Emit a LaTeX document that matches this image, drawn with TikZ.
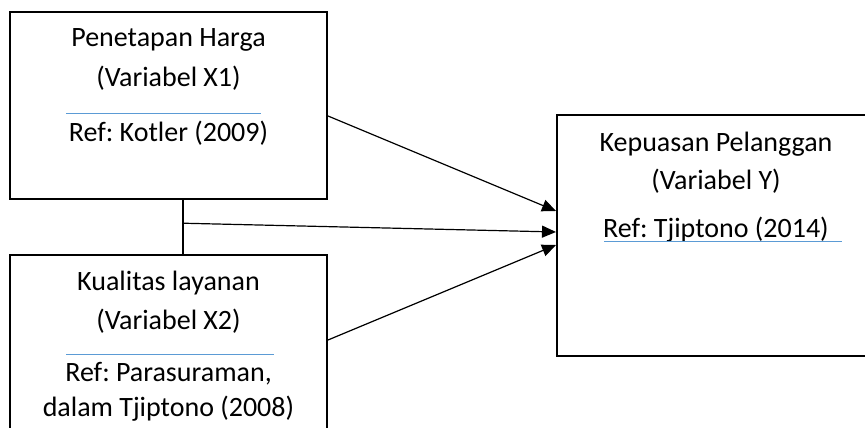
\documentclass[tikz,border=0pt]{standalone}
\usepackage{fontspec}
\setmainfont{Carlito}
\frenchspacing
\usetikzlibrary{arrows.meta}
\usetikzlibrary{calc}

\definecolor{refblue}{RGB}{91,155,213}
\tikzset{
  varbox/.style={draw, line width=2pt, minimum width=317pt, inner sep=0pt},
  vartext/.style={anchor=base, inner sep=0pt, font=\fontsize{28}{40}\selectfont},
  refline/.style={draw=refblue, line width=1pt},
  link/.style={line width=1.2pt, -{Triangle[length=14pt,width=12pt]}},
}

\begin{document}
\begin{tikzpicture}[x=1pt,y=1pt]
    \useasboundingbox (0,0) rectangle (865,428);

    % Variabel X1
    \node[varbox, minimum height=187pt] (x1) at (168.5,322.5) {};
    \node[vartext] (x1name) at ($(x1.north)+(0,-36)$) {Penetapan Harga};
    \node[vartext] (x1var) at ($(x1.north)+(0,-76)$) {(Variabel X1)};
    \draw[refline] ($(x1.north west)+(57,-103)$) -- ($(x1.north east)+(-67,-103)$);
    \node[vartext] (x1ref) at ($(x1.north)+(0,-131)$) {Ref: Kotler (2009)};

    % Variabel X2
    \node[varbox, minimum height=187pt] (x2) at (168.5,79.5) {};
    \node[vartext] (x2name) at ($(x2.north)+(0,-37)$) {Kualitas layanan};
    \node[vartext] (x2var) at ($(x2.north)+(0,-76)$) {(Variabel X2)};
    \draw[refline] ($(x2.north west)+(57,-101)$) -- ($(x2.north east)+(-54,-101)$);
    \node[vartext] (x2ref) at ($(x2.north)+(0,-128)$) {Ref: Parasuraman,};
    \node[vartext] (x2src) at ($(x2.north)+(0,-163)$) {dalam Tjiptono (2008)};

    % Variabel Y (runs past the right edge)
    \node[varbox, minimum width=360pt, minimum height=241pt] (y) at (737,192.5) {};
    \node[vartext] (yname) at ($(y.north west)+(160,-38)$) {Kepuasan Pelanggan};
    \node[vartext] (yvar) at ($(y.north west)+(160,-76)$) {(Variabel Y)};
    \node[vartext] (yref) at ($(y.north west)+(160,-124)$) {Ref: Tjiptono (2014)};
    \draw[refline] ($(y.north west)+(48,-128)$) -- ($(y.north west)+(286,-128)$);

    % Hubungan antar variabel
    \coordinate (jn) at ($(x1.south)!0.43!(x2.north)+(14.5,0)$);
    \draw[line width=1.2pt] ($(x1.south)+(14.5,0)$) -- ($(x2.north)+(14.5,0)$);
    \draw[link] ($(x1.east)+(0,-10.5)$) -- ($(y.west)+(0,24.5)$);
    \draw[link] (jn) -- ($(y.west)+(0,3.5)$);
    \draw[link] ($(x2.east)+(0,8.5)$) -- ($(y.west)+(0,-9.5)$);
\end{tikzpicture}
\end{document}
